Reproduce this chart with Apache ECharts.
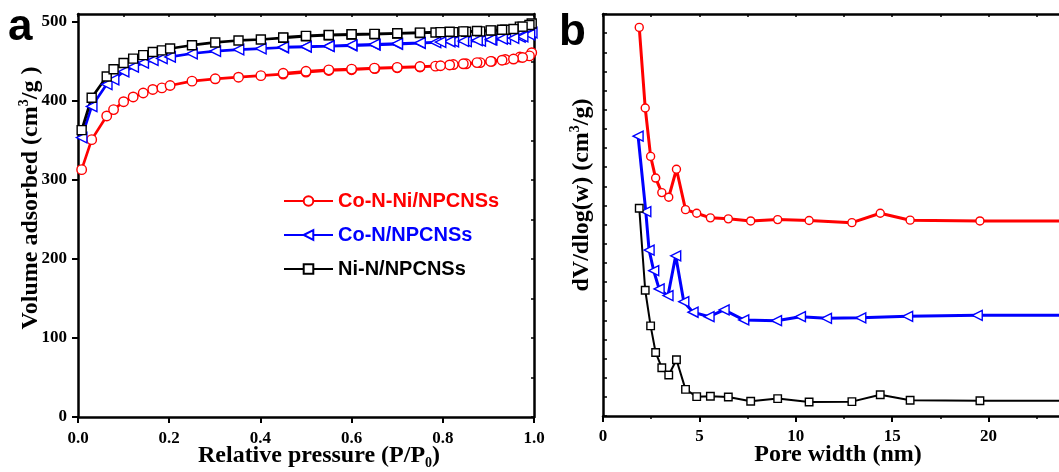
<!DOCTYPE html>
<html>
<head>
<meta charset="utf-8">
<script src="https://cdn.jsdelivr.net/npm/echarts@6/dist/echarts.min.js"></script>
<style>
  html, body { margin: 0; padding: 0; background: #fff; }
  #chart { width: 1059px; height: 472px; }
</style>
</head>
<body>
<div id="chart"></div>
<script>
// ---- (a) N2 adsorption–desorption isotherms ----
const sampleNames = ['Co-N-Ni/NPCNSs', 'Co-N/NPCNSs', 'Ni-N/NPCNSs'];

// relative pressure P/P0, adsorption branch
const pressureAds = [0.008, 0.030, 0.063, 0.078, 0.100, 0.121, 0.143, 0.164, 0.184, 0.202,
  0.250, 0.301, 0.352, 0.401, 0.450, 0.500, 0.550, 0.600, 0.651, 0.700,
  0.750, 0.784, 0.823, 0.851, 0.882, 0.907, 0.937, 0.969, 0.995];
// relative pressure P/P0, desorption branch
const pressureDes = [0.990, 0.975, 0.955, 0.930, 0.905, 0.875, 0.845, 0.815, 0.795,
  0.750, 0.700, 0.650, 0.600, 0.550, 0.500, 0.450];

// adsorbed volume (cm3/g)
const coNiAds = [313, 351, 381, 389, 399, 405, 410, 414.5, 416.5, 419.5,
  425, 428, 430, 432, 434, 436.5, 438.5, 439.5, 441, 442,
  443, 444, 446, 447, 448.5, 450, 452.5, 455.5, 461];
const coNiDes = [457, 455, 453, 451.5, 450, 448.5, 447, 445.5, 444.5,
  443.5, 442.5, 441.5, 440.3, 439.3, 437.5, 435];

const coAds = [353.6, 393, 421, 427, 437, 443, 448, 451.5, 453.7, 455.7,
  460, 463, 465, 466.3, 467.6, 468.5, 469.3, 470, 471, 472,
  473, 474, 475, 475.5, 476, 477.5, 478.5, 481, 486.5];
const coDes = [484, 481.5, 479.5, 478.5, 477.5, 476.5, 475.8, 475.2, 474.5,
  473.5, 472.5, 471.5, 470.5, 469.5, 468.8, 468];

const niAds = [363, 404, 431, 440, 448, 453.5, 458, 462, 464, 466.3,
  470.5, 474, 476.5, 477.7, 479.8, 481.9, 483.2, 484, 484.4, 485.3,
  486, 486.6, 487, 487.6, 488, 489, 490, 494, 498];
const niDes = [496, 494, 491, 490, 489.3, 488.5, 488, 487.5, 487,
  486.4, 485.6, 484.8, 484.3, 483.5, 482.3, 480.3];

const volumeTicks = [0, 100, 200, 300, 400, 500];

// ---- (b) pore size distribution ----
// pore width (nm)
const widthCoNiNi = [1.88, 2.19, 2.47, 2.73, 3.05, 3.41, 3.81, 4.28, 4.86, 5.57,
  6.50, 7.66, 9.06, 10.69, 12.91, 14.38, 15.93, 19.55, 24.4];
const widthCo = [1.82, 2.22, 2.39, 2.63, 2.91, 3.37, 3.77, 4.19, 4.67, 5.50,
  6.28, 7.30, 9.00, 10.24, 11.59, 13.37, 15.80, 19.41, 24.2];

// dV/dlog(w), arbitrary offset units
const dvCoNi = [20.3, 16.09, 13.56, 12.43, 11.67, 11.43, 12.89, 10.78, 10.59, 10.35,
  10.30, 10.19, 10.26, 10.21, 10.10, 10.59, 10.23, 10.19, 10.19];
const dvCo = [14.62, 10.68, 8.67, 7.59, 6.64, 6.29, 8.37, 5.97, 5.42, 5.19,
  5.54, 5.02, 4.98, 5.19, 5.10, 5.13, 5.21, 5.26, 5.26];
const dvNi = [10.85, 6.57, 4.71, 3.32, 2.52, 2.14, 2.94, 1.39, 1.01, 1.03,
  0.99, 0.77, 0.91, 0.73, 0.75, 1.11, 0.82, 0.80, 0.80];

const RED = '#ff0000', BLUE = '#0000ff', BLACK = '#000000';
const SERIF = '"Liberation Serif", "Times New Roman", serif';
const SANS = '"Liberation Sans", Arial, sans-serif';

const pairs = (xs, ys) => xs.map((x, i) => [x, ys[i]]);
const isotherm = (ads, des) => pairs(pressureAds, ads).concat(pairs(pressureDes, des));

const axisLine = { show: true, onZero: false, lineStyle: { color: BLACK, width: 2.5 } };
const tickLabel = { fontFamily: SERIF, fontWeight: 'bold', fontSize: 17, color: BLACK };
const titleRich = {
  t: { fontFamily: SERIF, fontWeight: 'bold', fontSize: 24, color: BLACK, lineHeight: 28 },
  sub: { fontFamily: SERIF, fontWeight: 'bold', fontSize: 14, color: BLACK, verticalAlign: 'bottom', lineHeight: 22 },
  sup: { fontFamily: SERIF, fontWeight: 'bold', fontSize: 14, color: BLACK, verticalAlign: 'top', lineHeight: 22 }
};

function lineSeries(name, data, color, symbol, size, width, xi, yi, rotate) {
  return {
    type: 'line', name, data,
    xAxisIndex: xi, yAxisIndex: yi,
    symbol, symbolSize: size, symbolRotate: rotate || 0,
    showSymbol: true,
    lineStyle: { color, width },
    itemStyle: { color: '#ffffff', borderColor: color, borderWidth: 1.4 },
    emphasis: { disabled: true },
    clip: true
  };
}

const chart = echarts.init(document.getElementById('chart'));
chart.setOption({
  animation: false,
  backgroundColor: '#ffffff',
  grid: [
    { left: 78, top: 14, width: 456, height: 403, outerBoundsMode: 'none', containLabel: false },
    { left: 603, top: 14, width: 482, height: 402, outerBoundsMode: 'none', containLabel: false }
  ],
  xAxis: [
    {
      gridIndex: 0, type: 'value', position: 'bottom', min: 0, max: 1, interval: 0.2,
      axisLine, splitLine: { show: false },
      axisTick: { inside: false, length: 6, lineStyle: { width: 2 } },
      axisLabel: Object.assign({ margin: 13, formatter: v => v.toFixed(1) }, tickLabel),
      name: '{t|Relative pressure (P/P}{sub|0}{t|)}',
      nameLocation: 'middle', nameGap: 25, nameMoveOverlap: false,
      nameTextStyle: { rich: titleRich, padding: [0, 0, 0, 26] }
    },
    {
      gridIndex: 0, type: 'value', position: 'top', min: 0, max: 1, interval: 0.1,
      axisLine, splitLine: { show: false },
      axisTick: { inside: true, length: 3, lineStyle: { width: 1.5 } },
      axisLabel: { show: false }
    },
    {
      gridIndex: 1, type: 'value', position: 'bottom', min: 0, max: 25, interval: 5,
      axisLine, splitLine: { show: false },
      axisTick: { inside: false, length: 6, lineStyle: { width: 2 } },
      minorTick: { show: true, splitNumber: 2, length: 3, lineStyle: { color: BLACK, width: 1.5 } },
      axisLabel: Object.assign({ margin: 12 }, tickLabel),
      name: '{t|Pore width (nm)}',
      nameLocation: 'middle', nameGap: 25, nameMoveOverlap: false,
      nameTextStyle: { rich: titleRich, padding: [0, 12, 0, 0] }
    },
    {
      gridIndex: 1, type: 'value', position: 'top', min: 0, max: 25, interval: 2.5,
      axisLine, splitLine: { show: false },
      axisTick: { inside: true, length: 3, lineStyle: { width: 1.5 } },
      axisLabel: { show: false }
    }
  ],
  yAxis: [
    {
      gridIndex: 0, type: 'value', position: 'left', min: 0, max: 510, interval: 100,
      axisLine, splitLine: { show: false },
      axisTick: { inside: false, length: 6, lineStyle: { width: 2 }, customValues: volumeTicks },
      axisLabel: Object.assign({ margin: 11, customValues: volumeTicks }, tickLabel)
    },
    {
      gridIndex: 0, type: 'value', position: 'right', min: 0, max: 510, interval: 50,
      axisLine, splitLine: { show: false },
      axisTick: { inside: true, length: 3, lineStyle: { width: 1.5 },
        customValues: [0, 50, 100, 150, 200, 250, 300, 350, 400, 450, 500] },
      axisLabel: { show: false }
    },
    {
      gridIndex: 1, type: 'value', position: 'left', min: 0, max: 21, interval: 1,
      axisLine, splitLine: { show: false },
      axisTick: { inside: true, length: 4, lineStyle: { width: 1.5 } },
      axisLabel: { show: false }
    },
    {
      gridIndex: 1, type: 'value', position: 'right', min: 0, max: 21, interval: 1,
      axisLine, splitLine: { show: false },
      axisTick: { inside: true, length: 4 },
      axisLabel: { show: false }
    }
  ],
  legend: {
    orient: 'vertical', left: 278, top: 186,
    itemWidth: 49, itemHeight: 12, itemGap: 14,
    textStyle: { fontFamily: SANS, fontWeight: 'bold', fontSize: 20 },
    data: [
      { name: sampleNames[0], textStyle: { color: RED } },
      { name: sampleNames[1], textStyle: { color: BLUE } },
      { name: sampleNames[2], textStyle: { color: BLACK } }
    ],
    selectedMode: false
  },
  series: [
    lineSeries(sampleNames[0], isotherm(coNiAds, coNiDes), RED, 'circle', 9.5, 2.7, 0, 0),
    lineSeries(sampleNames[1], isotherm(coAds, coDes), BLUE, 'triangle', 10.5, 2.7, 0, 0, 90),
    lineSeries(sampleNames[2], isotherm(niAds, niDes), BLACK, 'rect', 9, 2.7, 0, 0),
    lineSeries(sampleNames[0], pairs(widthCoNiNi, dvCoNi), RED, 'circle', 8, 3, 2, 2),
    lineSeries(sampleNames[1], pairs(widthCo, dvCo), BLUE, 'triangle', 10, 3, 2, 2, 90),
    lineSeries(sampleNames[2], pairs(widthCoNiNi, dvNi), BLACK, 'rect', 7.5, 2, 2, 2)
  ],
  graphic: [
    { type: 'text', left: 8, top: 6, silent: true,
      style: { text: 'a', font: 'bold 44px "Liberation Sans", Arial, sans-serif', fill: BLACK } },
    { type: 'text', left: 559, top: 11, silent: true,
      style: { text: 'b', font: 'bold 44px "Liberation Sans", Arial, sans-serif', fill: BLACK } },
    { type: 'text', x: 31, y: 198, rotation: Math.PI / 2, silent: true,
      style: { text: '{t|Volume adsorbed (cm}{sup|3}{t|/g )}', rich: titleRich,
        align: 'center', verticalAlign: 'middle' } },
    { type: 'text', x: 582, y: 195, rotation: Math.PI / 2, silent: true,
      style: { text: '{t|dV/dlog(w) (cm}{sup|3}{t|/g)}', rich: titleRich,
        align: 'center', verticalAlign: 'middle' } }
  ]
});
</script>
</body>
</html>
